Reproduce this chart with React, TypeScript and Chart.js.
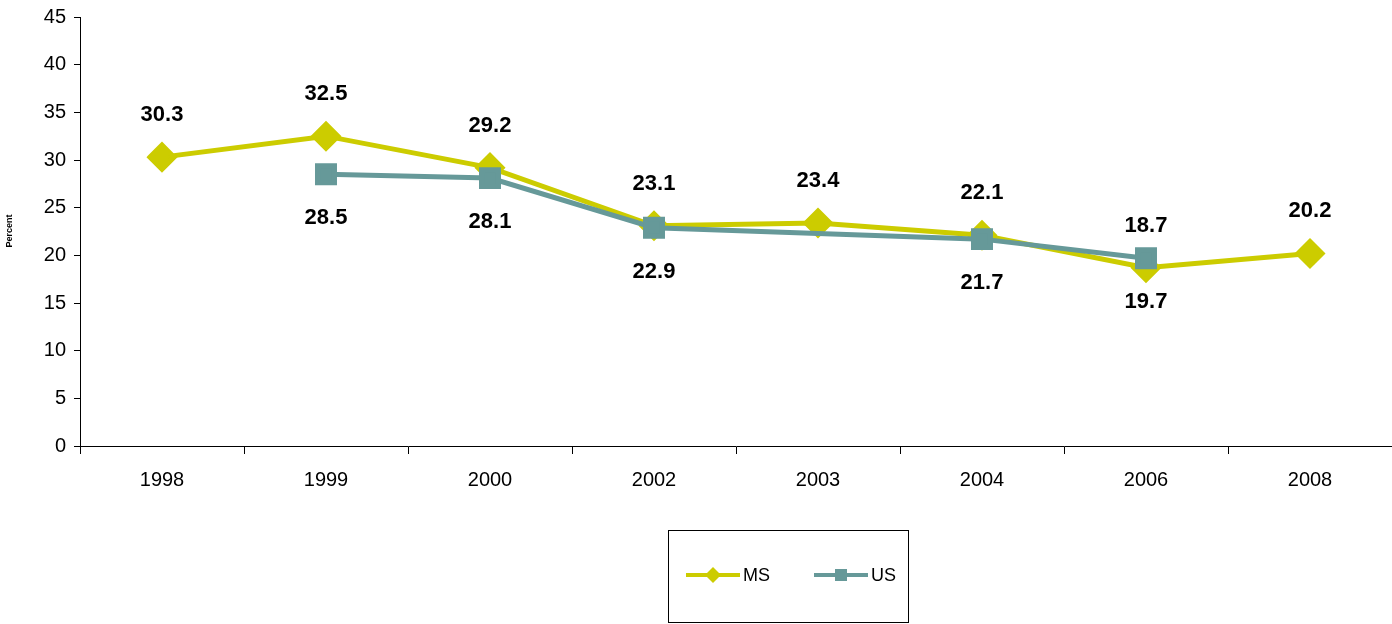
import React, { useEffect, useRef } from "react";
import { Chart, registerables } from "chart.js";
Chart.register(...registerables);

const categories = ["1998", "1999", "2000", "2002", "2003", "2004", "2006", "2008"];
const msValues = [30.3, 32.5, 29.2, 23.1, 23.4, 22.1, 18.7, 20.2];
const usValues = [null, 28.5, 28.1, 22.9, null, 21.7, 19.7, null];
const yTicks = [0, 5, 10, 15, 20, 25, 30, 35, 40, 45];
const MS_COLOR = "#CCCC00";
const US_COLOR = "#669999";

const extras = {
  id: "extras",
  afterDatasetsDraw(chart: any) {
    const ctx = chart.ctx;
    ctx.save();
    ctx.font = "bold 22px Arial, 'Liberation Sans'";
    ctx.fillStyle = "#000";
    ctx.textAlign = "center";
    ctx.textBaseline = "middle";
    chart.data.datasets.forEach((ds: any, di: number) => {
      const meta = chart.getDatasetMeta(di);
      const above = ds.label === "MS";
      ds.data.forEach((v: any, i: number) => {
        if (v == null) return;
        const p = meta.data[i];
        ctx.fillText(v.toFixed(1), p.x, above ? p.y - 42 : p.y + 44);
      });
    });
    ctx.save();
    ctx.translate(10, 231);
    ctx.rotate(-Math.PI / 2);
    ctx.font = "bold 9px Arial, 'Liberation Sans'";
    ctx.fillText("Percent", 0, 0);
    ctx.restore();
    const lx = 668, ly = 530, lw = 240, lh = 92;
    ctx.strokeStyle = "#000";
    ctx.lineWidth = 1;
    ctx.strokeRect(lx + 0.5, ly + 0.5, lw, lh);
    const cy = ly + 45;
    const item = (x: number, color: string, label: string, diamond: boolean) => {
      ctx.strokeStyle = color;
      ctx.lineWidth = 4;
      ctx.beginPath();
      ctx.moveTo(x, cy);
      ctx.lineTo(x + 54, cy);
      ctx.stroke();
      ctx.fillStyle = color;
      const mx = x + 27;
      if (diamond) {
        ctx.beginPath();
        ctx.moveTo(mx, cy - 8); ctx.lineTo(mx + 8, cy); ctx.lineTo(mx, cy + 8); ctx.lineTo(mx - 8, cy);
        ctx.closePath(); ctx.fill();
      } else {
        ctx.fillRect(mx - 6, cy - 6, 12, 12);
      }
      ctx.fillStyle = "#000";
      ctx.font = "18px Arial, 'Liberation Sans'";
      ctx.textAlign = "left";
      ctx.fillText(label, x + 57, cy + 1);
    };
    item(686, MS_COLOR, "MS", true);
    item(814, US_COLOR, "US", false);
    ctx.restore();
  },
};

export default function App() {
  const ref = useRef<HTMLCanvasElement>(null);
  useEffect(() => {
    document.body.style.margin = "0";
    const chart = new Chart(ref.current!, {
      type: "line",
      data: {
        labels: categories,
        datasets: [
          {
            label: "MS", data: msValues, borderColor: MS_COLOR, backgroundColor: MS_COLOR, order: 1,
            borderWidth: 5, pointStyle: "rectRot", pointRadius: 12, tension: 0,
          },
          {
            label: "US", data: usValues as any, borderColor: US_COLOR, backgroundColor: US_COLOR, order: 0,
            borderWidth: 5, pointStyle: "rect", pointRadius: 12, spanGaps: true, tension: 0,
          },
        ],
      },
      options: {
        animation: false,
        responsive: false,
        layout: { padding: { top: 16, right: 0, left: 0, bottom: 0 } },
        plugins: { legend: { display: false }, tooltip: { enabled: false } },
        scales: {
          x: {
            offset: true,
            grid: { offset: true, drawOnChartArea: false, color: "#000", tickLength: 8 },
            border: { color: "#000", width: 1 },
            ticks: { color: "#000", font: { size: 20, family: "Arial, 'Liberation Sans'" }, padding: 14 },
            afterFit: (s: any) => { s.height = 178; s.paddingLeft = 0; s.paddingRight = 0; },
          },
          y: {
            min: 0, max: 45,
            afterBuildTicks: (s: any) => { s.ticks = yTicks.map((v) => ({ value: v })); },
            grid: { drawOnChartArea: false, color: "#000", tickLength: 6 },
            border: { color: "#000", width: 1 },
            ticks: { color: "#000", font: { size: 20, family: "Arial, 'Liberation Sans'" }, padding: 8 },
            afterFit: (s: any) => { s.width = 80; s.paddingTop = 0; s.paddingBottom = 0; },
          },
        },
      },
      plugins: [extras],
    });
    return () => chart.destroy();
  }, []);
  return (
    <div style={{ width: 1392, height: 624, overflow: "hidden" }}>
      <canvas ref={ref} width={1409} height={624} style={{ display: "block" }} />
    </div>
  );
}
